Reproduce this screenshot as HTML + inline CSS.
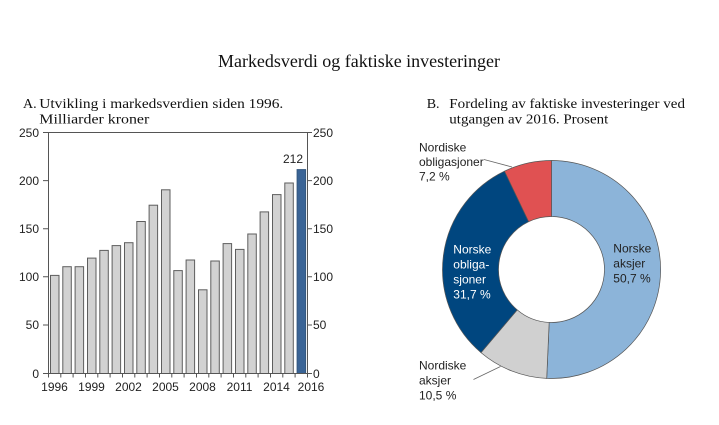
<!DOCTYPE html>
<html><head><meta charset="utf-8"><style>
html,body{margin:0;padding:0;background:#fff;}
svg{display:block;}
.s{font-family:"Liberation Sans",Arial,sans-serif;font-size:12px;fill:#222;}
.t{font-family:"Liberation Serif","Times New Roman",serif;fill:#111;}
</style></head><body>
<svg width="719" height="425" viewBox="0 0 719 425" xmlns="http://www.w3.org/2000/svg">
<rect width="719" height="425" fill="#fff"/>
<text class="t" x="218" y="67" font-size="17.5" textLength="282" lengthAdjust="spacingAndGlyphs">Markedsverdi og faktiske investeringer</text>
<text class="t" x="23" y="108" font-size="14">A.</text>
<text class="t" x="39.3" y="108" font-size="14" textLength="244" lengthAdjust="spacingAndGlyphs">Utvikling i markedsverdien siden 1996.</text>
<text class="t" x="39.3" y="123.5" font-size="14" textLength="110" lengthAdjust="spacingAndGlyphs">Milliarder kroner</text>
<text class="t" x="426.7" y="108" font-size="14">B.</text>
<text class="t" x="449.3" y="108" font-size="14" textLength="235.7" lengthAdjust="spacingAndGlyphs">Fordeling av faktiske investeringer ved</text>
<text class="t" x="449.3" y="123.5" font-size="14" textLength="159" lengthAdjust="spacingAndGlyphs">utgangen av 2016. Prosent</text>

<!-- bars -->
<g stroke="#5e5e5e" stroke-width="1" fill="#d2d2d2">
<rect x="50.5" y="275.4" width="8.5" height="98.1"/>
<rect x="62.8" y="266.7" width="8.5" height="106.8"/>
<rect x="75.1" y="266.7" width="8.5" height="106.8"/>
<rect x="87.5" y="258.1" width="8.5" height="115.4"/>
<rect x="99.8" y="250.4" width="8.5" height="123.1"/>
<rect x="112.1" y="245.6" width="8.5" height="127.9"/>
<rect x="124.5" y="242.7" width="8.5" height="130.8"/>
<rect x="136.8" y="221.5" width="8.5" height="152.0"/>
<rect x="149.1" y="205.2" width="8.5" height="168.3"/>
<rect x="161.5" y="189.8" width="8.5" height="183.7"/>
<rect x="173.8" y="270.6" width="8.5" height="102.9"/>
<rect x="186.1" y="260.0" width="8.5" height="113.5"/>
<rect x="198.5" y="289.8" width="8.5" height="83.7"/>
<rect x="210.8" y="261.0" width="8.5" height="112.5"/>
<rect x="223.1" y="243.6" width="8.5" height="129.9"/>
<rect x="235.5" y="249.4" width="8.5" height="124.1"/>
<rect x="247.8" y="234.0" width="8.5" height="139.5"/>
<rect x="260.1" y="211.9" width="8.5" height="161.6"/>
<rect x="272.5" y="194.6" width="8.5" height="178.9"/>
<rect x="284.8" y="183.0" width="8.5" height="190.5"/>
<rect x="297.1" y="169.6" width="8.5" height="203.9" fill="#3a6496" stroke="#34587f"/>
</g>

<!-- frame -->
<g stroke="#555" stroke-width="1" fill="none">
<path d="M48.5 132.5 H307.5 M48.5 132.5 V373.5 M307.5 132.5 V373.5 M43 373.5 H312"/>
<path d="M43 132.5 H48.5 M43 180.6 H48.5 M43 228.7 H48.5 M43 276.8 H48.5 M43 325 H48.5"/>
<path d="M307.5 132.5 H312 M307.5 180.6 H312 M307.5 228.7 H312 M307.5 276.8 H312 M307.5 325 H312"/>
<path d="M48.5 373.5v4 M60.8 373.5v4 M73.1 373.5v4 M85.5 373.5v4 M97.8 373.5v4 M110.1 373.5v4 M122.5 373.5v4 M134.8 373.5v4 M147.1 373.5v4 M159.5 373.5v4 M171.8 373.5v4 M184.1 373.5v4 M196.5 373.5v4 M208.8 373.5v4 M221.1 373.5v4 M233.5 373.5v4 M245.8 373.5v4 M258.1 373.5v4 M270.5 373.5v4 M282.8 373.5v4 M295.1 373.5v4 M307.5 373.5v4"/>
</g>

<g class="s" text-anchor="end">
<text x="39" y="137">250</text>
<text x="39" y="185">200</text>
<text x="39" y="233">150</text>
<text x="39" y="281">100</text>
<text x="39" y="329">50</text>
<text x="39" y="378">0</text>
</g>
<g class="s">
<text x="313" y="137">250</text>
<text x="313" y="185">200</text>
<text x="313" y="233">150</text>
<text x="313" y="281">100</text>
<text x="313" y="329">50</text>
<text x="313" y="378">0</text>
</g>
<g class="s" text-anchor="middle">
<text x="54.5" y="391">1996</text>
<text x="91.5" y="391">1999</text>
<text x="128.5" y="391">2002</text>
<text x="165.5" y="391">2005</text>
<text x="202.5" y="391">2008</text>
<text x="239.5" y="391">2011</text>
<text x="276.5" y="391">2014</text>
<text x="311" y="391">2016</text>
<text x="293" y="163">212</text>
</g>

<!-- donut -->
<g stroke="#555" stroke-width="0.7">
<path fill="#8cb4d9" d="M551.5 160.5 A109 109 0 1 1 546.71 378.39 L549.17 322.45 A53 53 0 1 0 551.5 216.5 Z"/>
<path fill="#d0d0d0" d="M546.71 378.39 A109 109 0 0 1 480.98 352.61 L517.21 309.91 A53 53 0 0 0 549.17 322.45 Z"/>
<path fill="#00467f" d="M480.98 352.61 A109 109 0 0 1 504.48 171.17 L528.64 221.69 A53 53 0 0 0 517.21 309.91 Z"/>
<path fill="#e05152" d="M504.48 171.17 A109 109 0 0 1 551.5 160.5 L551.5 216.5 A53 53 0 0 0 528.64 221.69 Z"/>
</g>
<g stroke="#666" stroke-width="0.8">
<line x1="484" y1="159.5" x2="512" y2="167"/>
<line x1="473.5" y1="379.5" x2="500.5" y2="366.5"/>
</g>
<g class="s">
<text x="419" y="151.3">Nordiske</text>
<text x="419" y="166">obligasjoner</text>
<text x="419" y="180.5">7,2 %</text>
<text x="613.3" y="252.6">Norske</text>
<text x="613.3" y="267.6">aksjer</text>
<text x="613.3" y="282.6">50,7 %</text>
<text x="419" y="369.3">Nordiske</text>
<text x="419" y="384.3">aksjer</text>
<text x="419" y="399.3">10,5 %</text>
</g>
<g class="s" style="fill:#fff">
<text x="453.3" y="253.6">Norske</text>
<text x="453.3" y="268.6">obliga-</text>
<text x="453.3" y="283.6">sjoner</text>
<text x="453.3" y="298.6">31,7 %</text>
</g>
</svg>
</body></html>
